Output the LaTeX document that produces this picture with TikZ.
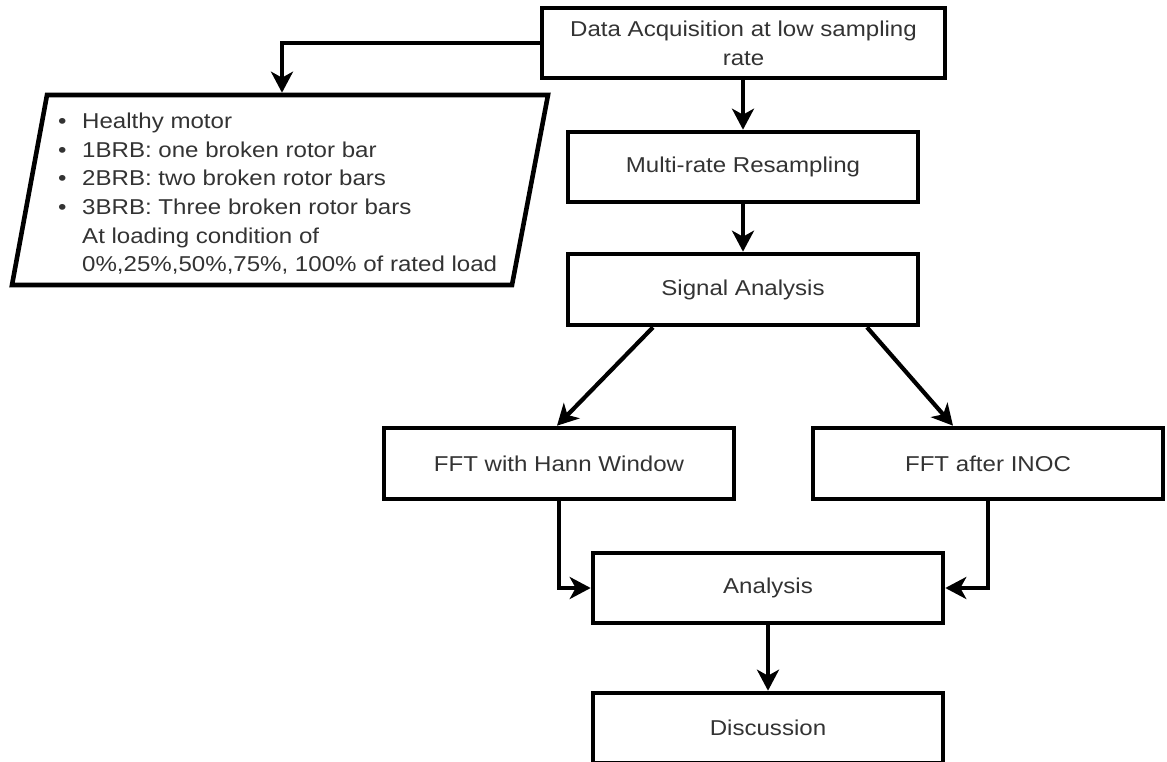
\documentclass[tikz,border=0pt]{standalone}
\usepackage{fontspec}
\setmainfont{Liberation Sans}[FakeStretch=1.12]
\usetikzlibrary{arrows.meta}
\newcommand{\bul}{\makebox[24.2pt][l]{•}}
\newcommand{\ind}{\hspace*{24.2pt}}
\begin{document}
\begin{tikzpicture}[x=1pt,y=-1pt,
  txt/.style={font=\fontsize{21.5}{28.7}\selectfont, text=black!80},
  box/.style={txt, draw, line width=4.6pt, minimum width=350pt, minimum height=70pt, inner sep=0pt, align=center},
  conn/.style={line width=4.2pt, -{Stealth[length=21pt,width=22pt,inset=6pt]}}]
\useasboundingbox (0,0) rectangle (1167,762);
\node[box, minimum width=403pt] (acq) at (743.5,43) {Data Acquisition at low sampling\\rate};
\node[box] (mrr) at (743,167) {Multi-rate Resampling};
\node[box, minimum height=71pt] (sig) at (743,289.5) {Signal Analysis};
\node[box, minimum height=71pt] (hann) at (559,463.5) {FFT with Hann Window};
\node[box, minimum height=71pt] (inoc) at (988,463.5) {FFT after INOC};
\node[box] (ana) at (768,588) {Analysis};
\node[box] (disc) at (768,728) {Discussion};
% parallelogram (input data)
\draw[line width=4.6pt, line join=miter] (47,95) -- (548,95) -- (512,285) -- (12,285) -- cycle;
\coordinate (condtop) at (282,92.7);
\node[txt, align=left, anchor=north west, inner sep=0pt] (cond) at (57.8,112.6)
  {\bul Healthy motor\\
   \bul 1BRB: one broken rotor bar\\
   \bul 2BRB: two broken rotor bars\\
   \bul 3BRB: Three broken rotor bars\\
   \ind At loading condition of\\
   \ind 0\%,25\%,50\%,75\%, 100\% of rated load};
% connectors
\draw[conn] (acq.west) -| (condtop);
\draw[conn] (acq.south -| mrr.north) -- (mrr.north);
\draw[conn] (mrr) -- (sig);
\draw[conn] ([xshift=-90pt]sig.south) -- ([xshift=-2pt]hann.north);
\draw[conn] ([xshift=124pt]sig.south) -- ([xshift=-35pt]inoc.north);
\draw[conn] (hann.south) |- (ana.west);
\draw[conn] (inoc.south) |- (ana.east);
\draw[conn] (ana) -- (disc);
\end{tikzpicture}
\end{document}
